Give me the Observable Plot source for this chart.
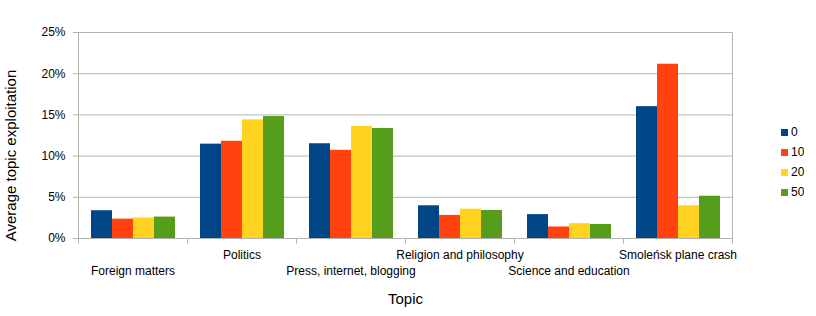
<!DOCTYPE html>
<html><head><meta charset="utf-8">
<script src="https://cdn.jsdelivr.net/npm/d3@7"></script>
<script src="https://cdn.jsdelivr.net/npm/@observablehq/plot@0.6"></script>
<style>
body{margin:0;background:#fff;font-family:"Liberation Sans",Arial,sans-serif;}
#wrap{position:relative;width:816px;height:316px;overflow:hidden;}
#legend{position:absolute;left:781px;top:122px;font-family:"Liberation Sans",Arial,sans-serif;font-size:12px;color:#000;}
#legend > div{margin:0 !important;}
#legend [class$="-swatch"]{height:20px !important;line-height:20px !important;display:flex !important;align-items:center !important;padding:0 !important;margin:0 !important;}
#legend svg{margin-right:3px !important;}
</style></head>
<body><div id="wrap"><div id="chart"></div><div id="legend"></div></div>
<script>
// ---- data ----
const topics = ["Foreign matters", "Politics", "Press, internet, blogging", "Religion and philosophy", "Science and education", "Smoleńsk plane crash"];
const series = ["0", "10", "20", "50"];
const values0  = [0.0337, 0.1145, 0.1150, 0.0397, 0.0290, 0.1600];
const values10 = [0.0235, 0.1180, 0.1070, 0.0280, 0.0140, 0.2115];
const values20 = [0.0250, 0.1440, 0.1360, 0.0356, 0.0180, 0.0397];
const values50 = [0.0260, 0.1480, 0.1335, 0.0340, 0.0170, 0.0513];
const yTicks = [0, 0.05, 0.10, 0.15, 0.20, 0.25];
const colors = ["#004586", "#ff420e", "#ffd320", "#579d1c"];
const xLabel = "Topic";
const yLabel = "Average topic exploitation";

const seriesValues = [values0, values10, values20, values50];
const data = [];
topics.forEach((t, i) => series.forEach((s, j) => data.push({topic: t, series: s, value: seriesValues[j][i]})));
const upperTopics = topics.filter((_, i) => i % 2 === 1);
const lowerTopics = topics.filter((_, i) => i % 2 === 0);

const GRID = "#b3b3b3";
const FONT = "'Liberation Sans', Arial, sans-serif";
const fmt = d3.format(".0%");

function decor(index, scales, values, dimensions) {
  const {width, height, marginLeft, marginRight, marginTop, marginBottom} = dimensions;
  const n = topics.length;
  const ys = scales.y;
  const y0 = Math.round(ys ? ys(0) : height - marginBottom) + 0.5;
  const yTop = Math.round(ys ? ys(yTicks[yTicks.length - 1]) : marginTop) + 0.5;
  const fx = scales.fx;
  const edges = d3.range(n + 1).map(i => {
    if (fx && typeof fx.bandwidth === "function") {
      return i < n ? fx(topics[i]) : fx(topics[n - 1]) + fx.bandwidth();
    }
    return marginLeft + i * (width - marginLeft - marginRight) / n;
  });
  const g = d3.create("svg:g").attr("stroke", GRID).attr("fill", "none");
  edges.forEach((x, i) => {
    const xx = Math.round(x) + 0.5;
    const top = (i === 0 || i === n) ? yTop : y0;
    g.append("path").attr("d", `M${xx},${top}V${y0 + 5}`);
  });
  return g.node();
}

const chart = Plot.plot({
  width: 816,
  height: 316,
  marginLeft: 76,
  marginRight: 82,
  marginTop: 32,
  marginBottom: 78,
  style: {fontFamily: FONT, fontSize: "12px", color: "#000", background: "#fff"},
  fx: {domain: topics, padding: 0, axis: null},
  x: {domain: series, paddingInner: 0, paddingOuter: 0.5, axis: null},
  y: {domain: [0, 0.25], axis: null},
  color: {domain: series, range: colors},
  marks: [
    Plot.gridY(yTicks, {stroke: GRID, strokeOpacity: 1}),
    Plot.barY(data, {fx: "topic", x: "series", y: "value", fill: "series", inset: 0}),
    Plot.axisY(yTicks, {anchor: "left", tickSize: 5, tickPadding: 8, stroke: GRID, fill: "#000", tickFormat: fmt, label: null, fontSize: 12}),
    Plot.text(upperTopics, {fx: d => d, text: d => d, frameAnchor: "bottom", lineAnchor: "middle", dy: 17, fontSize: 12, fill: "#000"}),
    Plot.text(lowerTopics, {fx: d => d, text: d => d, frameAnchor: "bottom", lineAnchor: "middle", dy: 33, fontSize: 12, fill: "#000"}),
    Plot.frame({facet: "super", stroke: "none", render: decor}),
    Plot.text([yLabel], {facet: "super", frameAnchor: "left", textAnchor: "middle", lineAnchor: "middle", rotate: -90, dx: -67, dy: 20, fontSize: 15, fill: "#000"}),
    Plot.text([xLabel], {facet: "super", frameAnchor: "bottom", dy: 61, fontSize: 15, fill: "#000", lineAnchor: "middle"})
  ]
});
document.getElementById("chart").appendChild(chart);

const legend = Plot.legend({
  color: {domain: series, range: colors, type: "ordinal"},
  legend: "swatches",
  columns: 1,
  swatchSize: 7,
  style: {fontFamily: FONT, fontSize: "12px", color: "#000"}
});
document.getElementById("legend").appendChild(legend);
</script></body></html>
